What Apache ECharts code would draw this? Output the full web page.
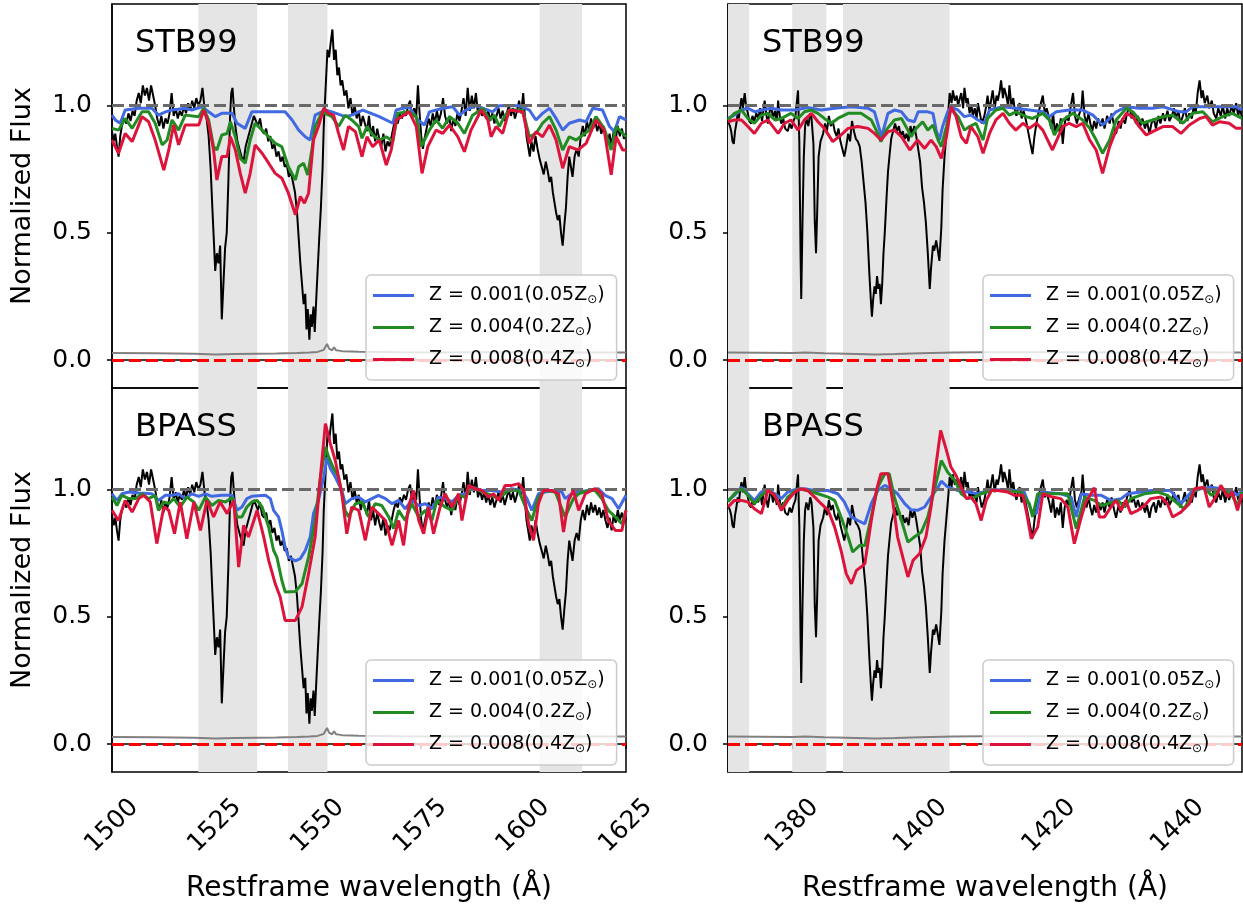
<!DOCTYPE html>
<html>
<head>
<meta charset="utf-8">
<script src="https://cdn.jsdelivr.net/npm/echarts@6/dist/echarts.min.js"></script>
<style>html,body{margin:0;padding:0;background:#fff}#chart{width:1243px;height:907px}</style>
</head>
<body>
<div id="chart"></div>
<script>
// tick values and shaded windows
var xTicksLeft = [1500, 1525, 1550, 1575, 1600, 1625];
var xTicksRight = [1380, 1400, 1420, 1440];
var yTicks = [0, 0.5, 1.0];
var spansLeft = [[1521, 1535.3], [1542.8, 1552.4], [1604, 1614.3]];
var spansRight = [[1370, 1373.3], [1380, 1385.3], [1387.9, 1404.5]];
var metal = ["0.001", "0.004", "0.008"];
var solar = ["0.05", "0.2", "0.4"];

// observed spectrum, 1500-1625
var obsLeft = [[1500.0,0.90],[1500.4,0.86],[1500.8,0.89],[1501.2,0.84],[1501.6,0.80],[1502.0,0.88],[1502.4,0.92],[1503.0,0.95],[1503.5,0.93],[1504.0,0.97],[1504.5,0.94],[1505.0,0.98],[1505.5,0.96],[1506.0,1.02],[1506.5,1.05],[1507.0,1.01],[1507.5,1.08],[1508.0,1.04],[1508.5,1.07],[1509.0,1.02],[1509.5,1.08],[1510.0,1.04],[1510.5,1.00],[1511.0,0.95],[1511.5,0.92],[1512.0,0.96],[1512.5,0.91],[1513.0,0.95],[1513.5,0.93],[1514.0,0.97],[1514.5,1.05],[1515.0,0.96],[1515.5,0.99],[1516.0,0.95],[1516.5,0.98],[1517.0,0.96],[1517.5,1.00],[1518.0,0.97],[1518.5,1.01],[1519.0,0.98],[1519.5,1.02],[1520.0,0.99],[1520.5,1.03],[1521.0,1.00],[1521.5,1.02],[1522.0,1.07],[1522.5,0.99],[1523.0,0.95],[1523.5,0.88],[1524.0,0.75],[1524.4,0.60],[1524.8,0.46],[1525.1,0.35],[1525.5,0.42],[1525.9,0.38],[1526.3,0.45],[1526.7,0.16],[1527.1,0.30],[1527.5,0.44],[1527.9,0.50],[1528.3,0.70],[1528.7,0.95],[1529.0,1.05],[1529.3,1.07],[1529.7,0.98],[1530.0,0.92],[1530.5,0.86],[1531.0,0.83],[1531.5,0.80],[1532.0,0.78],[1532.5,0.84],[1533.0,0.87],[1533.5,0.90],[1534.0,0.93],[1534.5,0.96],[1535.0,0.94],[1535.5,0.92],[1536.0,0.95],[1536.5,0.90],[1537.0,0.89],[1537.5,0.91],[1538.0,0.86],[1538.5,0.88],[1539.0,0.83],[1539.5,0.85],[1540.0,0.80],[1540.5,0.82],[1541.0,0.78],[1541.5,0.80],[1542.0,0.76],[1542.5,0.77],[1543.0,0.72],[1543.5,0.74],[1544.0,0.70],[1544.5,0.66],[1545.0,0.58],[1545.4,0.48],[1545.8,0.38],[1546.2,0.30],[1546.6,0.22],[1547.0,0.26],[1547.3,0.12],[1547.6,0.20],[1548.0,0.08],[1548.3,0.18],[1548.6,0.13],[1549.0,0.21],[1549.3,0.11],[1549.7,0.25],[1550.0,0.35],[1550.4,0.48],[1550.8,0.60],[1551.2,0.75],[1551.5,0.92],[1551.8,1.02],[1552.1,1.12],[1552.4,1.22],[1552.8,1.19],[1553.2,1.25],[1553.6,1.30],[1554.0,1.18],[1554.4,1.22],[1554.8,1.12],[1555.2,1.15],[1555.6,1.08],[1556.0,1.10],[1556.5,1.04],[1557.0,1.06],[1557.5,0.99],[1558.0,1.03],[1558.5,0.96],[1559.0,1.00],[1559.5,0.95],[1560.0,0.98],[1560.5,0.92],[1561.0,0.96],[1561.5,0.93],[1562.0,0.90],[1562.5,0.96],[1563.0,0.88],[1563.5,0.92],[1564.0,0.86],[1564.5,0.91],[1565.0,0.87],[1565.5,0.84],[1566.0,0.89],[1566.5,0.82],[1567.0,0.86],[1567.5,0.84],[1568.0,0.88],[1568.5,0.92],[1569.0,0.95],[1569.5,0.93],[1570.0,0.97],[1570.5,0.95],[1571.0,0.98],[1571.5,0.96],[1572.0,1.00],[1572.5,1.02],[1573.0,0.95],[1573.5,0.99],[1574.0,0.96],[1574.4,1.08],[1574.8,0.97],[1575.2,0.88],[1575.6,0.83],[1576.0,0.87],[1576.5,0.91],[1577.0,0.95],[1577.5,0.92],[1578.0,0.97],[1578.5,0.93],[1579.0,0.98],[1579.5,0.94],[1580.0,0.97],[1580.5,1.03],[1581.0,0.96],[1581.5,0.93],[1582.0,0.96],[1582.5,0.90],[1583.0,0.95],[1583.5,0.92],[1584.0,0.97],[1584.5,0.94],[1585.0,0.98],[1585.5,1.03],[1586.0,0.96],[1586.5,1.07],[1587.0,0.98],[1587.5,1.04],[1588.0,0.99],[1588.5,1.05],[1589.0,0.97],[1589.5,1.00],[1590.0,0.96],[1590.5,0.99],[1591.0,0.95],[1591.5,0.98],[1592.0,0.94],[1592.5,0.97],[1593.0,0.93],[1593.5,0.96],[1594.0,0.99],[1594.5,0.95],[1595.0,0.98],[1595.5,0.94],[1596.0,0.97],[1596.5,1.00],[1597.0,0.96],[1597.5,0.99],[1598.0,0.95],[1598.5,0.98],[1599.0,1.02],[1599.5,0.97],[1600.0,1.05],[1600.4,0.96],[1600.8,0.88],[1601.2,0.84],[1601.6,0.80],[1602.0,0.86],[1602.5,0.82],[1603.0,0.88],[1603.5,0.83],[1604.0,0.79],[1604.5,0.76],[1605.0,0.73],[1605.5,0.78],[1606.0,0.74],[1606.4,0.70],[1606.8,0.72],[1607.2,0.66],[1607.6,0.62],[1608.0,0.58],[1608.4,0.55],[1608.8,0.57],[1609.2,0.50],[1609.6,0.45],[1610.0,0.53],[1610.4,0.60],[1610.8,0.72],[1611.2,0.80],[1611.6,0.76],[1612.0,0.72],[1612.5,0.80],[1613.0,0.83],[1613.5,0.80],[1614.0,0.88],[1614.5,0.92],[1615.0,0.88],[1615.5,0.94],[1616.0,0.90],[1616.5,0.95],[1617.0,0.91],[1617.5,0.94],[1618.0,0.90],[1618.5,0.93],[1619.0,0.89],[1619.5,0.92],[1620.0,0.88],[1620.5,0.85],[1621.0,0.89],[1621.5,0.84],[1622.0,0.90],[1622.5,0.87],[1623.0,0.92],[1623.5,0.88],[1624.0,0.91],[1624.5,0.87],[1625.0,0.89]];

var errLeft = [[1500,0.028],[1510,0.027],[1520,0.025],[1525,0.022],[1530,0.024],[1535,0.025],[1540,0.026],[1545,0.028],[1548,0.030],[1550,0.032],[1551.5,0.040],[1552.3,0.063],[1552.8,0.045],[1553.5,0.038],[1554,0.050],[1554.5,0.038],[1556,0.035],[1560,0.033],[1570,0.031],[1580,0.030],[1590,0.031],[1600,0.031],[1610,0.030],[1625,0.030]];

// observed spectrum, 1370-1450
var obsRight = [[1370.0,0.94],[1370.3,0.92],[1370.5,0.90],[1370.7,0.86],[1370.9,0.85],[1371.1,0.90],[1371.3,0.93],[1371.5,0.97],[1371.7,0.95],[1371.9,1.00],[1372.1,1.03],[1372.3,0.99],[1372.6,1.05],[1372.8,1.00],[1373.1,0.97],[1373.3,0.94],[1373.6,0.93],[1373.8,0.96],[1374.1,0.94],[1374.4,0.97],[1374.7,0.95],[1375.0,0.99],[1375.3,0.94],[1375.7,1.02],[1376.0,0.96],[1376.2,0.93],[1376.5,0.98],[1376.7,1.00],[1377.0,0.95],[1377.3,0.98],[1377.6,0.94],[1377.8,1.02],[1378.1,0.95],[1378.3,0.93],[1378.6,0.95],[1378.9,0.91],[1379.3,0.90],[1379.6,0.93],[1379.9,0.91],[1380.2,0.94],[1380.5,0.96],[1380.9,1.06],[1381.1,0.86],[1381.3,0.40],[1381.4,0.24],[1381.6,0.55],[1381.8,0.80],[1382.0,0.92],[1382.2,0.95],[1382.5,0.92],[1382.8,0.97],[1383.0,0.95],[1383.3,0.85],[1383.5,0.55],[1383.7,0.42],[1383.9,0.60],[1384.1,0.80],[1384.4,0.86],[1384.8,0.89],[1385.1,0.93],[1385.4,0.90],[1385.7,0.96],[1386.0,0.92],[1386.3,0.94],[1386.6,0.90],[1386.9,0.88],[1387.2,0.91],[1387.5,0.86],[1387.8,0.83],[1388.1,0.80],[1388.4,0.84],[1388.7,0.89],[1389.0,0.86],[1389.3,0.94],[1389.6,0.90],[1389.9,0.87],[1390.2,0.86],[1390.5,0.84],[1390.8,0.78],[1391.1,0.70],[1391.4,0.62],[1391.7,0.50],[1392.0,0.34],[1392.2,0.25],[1392.4,0.17],[1392.6,0.24],[1392.8,0.29],[1393.0,0.26],[1393.2,0.33],[1393.4,0.28],[1393.6,0.30],[1393.8,0.22],[1394.0,0.30],[1394.2,0.42],[1394.4,0.50],[1394.7,0.65],[1394.9,0.74],[1395.2,0.82],[1395.4,0.87],[1395.7,0.90],[1396.0,0.93],[1396.3,0.90],[1396.6,0.92],[1396.9,0.88],[1397.2,0.90],[1397.5,0.87],[1397.8,0.89],[1398.1,0.86],[1398.4,0.92],[1398.7,0.89],[1399.0,0.92],[1399.3,0.88],[1399.6,0.83],[1399.9,0.78],[1400.2,0.68],[1400.5,0.62],[1400.8,0.54],[1401.1,0.42],[1401.4,0.28],[1401.6,0.36],[1401.9,0.45],[1402.1,0.43],[1402.4,0.47],[1402.6,0.44],[1402.9,0.39],[1403.2,0.52],[1403.4,0.67],[1403.7,0.80],[1404.0,0.89],[1404.3,0.98],[1404.5,1.05],[1404.8,1.01],[1405.0,1.06],[1405.3,1.02],[1405.6,1.04],[1405.8,1.00],[1406.1,1.03],[1406.3,1.05],[1406.6,0.99],[1406.8,1.07],[1407.1,1.01],[1407.3,1.03],[1407.6,0.97],[1407.9,1.00],[1408.1,0.96],[1408.4,0.99],[1408.7,0.95],[1408.9,1.01],[1409.2,0.97],[1409.5,0.93],[1409.9,0.96],[1410.2,1.00],[1410.4,1.04],[1410.7,0.98],[1411.0,1.03],[1411.2,1.06],[1411.5,0.99],[1411.8,1.04],[1412.0,1.02],[1412.3,1.06],[1412.5,1.10],[1412.8,1.03],[1413.0,1.07],[1413.3,1.04],[1413.6,1.00],[1413.8,1.08],[1414.1,1.00],[1414.4,1.03],[1414.6,0.99],[1414.9,0.96],[1415.2,1.00],[1415.4,1.01],[1415.7,0.95],[1416.0,0.98],[1416.4,0.94],[1416.7,0.90],[1417.0,0.86],[1417.4,0.81],[1417.7,0.88],[1418.0,0.93],[1418.3,0.97],[1418.6,1.00],[1419.0,1.04],[1419.3,0.97],[1419.6,0.99],[1420.0,0.95],[1420.3,0.91],[1420.6,0.97],[1420.9,0.89],[1421.2,0.93],[1421.5,0.90],[1421.8,0.95],[1422.1,0.85],[1422.4,0.93],[1422.7,0.96],[1423.0,0.94],[1423.3,0.99],[1423.7,1.05],[1424.0,0.96],[1424.3,0.93],[1424.7,0.97],[1425.0,0.99],[1425.2,1.06],[1425.5,0.96],[1425.8,0.93],[1426.1,0.97],[1426.4,0.93],[1426.7,0.90],[1427.0,0.94],[1427.3,0.91],[1427.6,0.95],[1428.0,0.92],[1428.3,0.95],[1428.6,0.91],[1429.0,0.96],[1429.4,0.93],[1429.7,0.97],[1430.1,0.92],[1430.4,0.89],[1430.8,0.94],[1431.1,0.91],[1431.4,0.95],[1431.8,0.93],[1432.1,0.97],[1432.5,1.00],[1432.8,0.95],[1433.1,0.97],[1433.5,0.93],[1433.8,0.96],[1434.2,0.92],[1434.5,0.95],[1434.9,0.91],[1435.2,0.94],[1435.6,0.89],[1435.9,0.93],[1436.3,0.95],[1436.6,0.91],[1437.0,0.96],[1437.3,0.93],[1437.7,0.97],[1438.0,0.94],[1438.4,0.98],[1438.7,0.94],[1439.1,0.96],[1439.4,0.99],[1439.7,0.95],[1440.1,0.98],[1440.4,0.93],[1440.8,0.96],[1441.1,0.99],[1441.5,0.94],[1441.8,0.97],[1442.2,0.95],[1442.5,1.00],[1442.8,0.97],[1443.1,1.05],[1443.4,1.10],[1443.7,1.03],[1443.9,1.06],[1444.2,1.01],[1444.6,1.04],[1444.9,0.99],[1445.3,1.02],[1445.6,0.97],[1446.0,0.95],[1446.3,0.99],[1446.7,0.96],[1447.0,1.00],[1447.4,0.95],[1447.7,0.99],[1448.0,0.96],[1448.4,1.00],[1448.7,0.97],[1449.1,1.01],[1449.4,0.96],[1449.7,0.99],[1450.0,0.95]];

var errRight = [[1370,0.030],[1375,0.029],[1380,0.028],[1382,0.030],[1385,0.027],[1390,0.024],[1393,0.022],[1396,0.024],[1400,0.027],[1405,0.030],[1410,0.031],[1420,0.031],[1430,0.030],[1440,0.031],[1450,0.030]];

// STB99 models, left window
var stbBlueL = [[1500.0,0.963],[1500.8,0.944],[1502.0,0.931],[1503.2,0.983],[1506.5,0.990],[1509.7,0.990],[1511.3,0.963],[1513.0,0.976],[1514.6,0.983],[1517.8,0.990],[1519.4,0.983],[1521.9,0.996],[1523.5,0.976],[1525.1,0.957],[1526.7,0.970],[1529.2,0.970],[1530.4,0.931],[1532.4,0.911],[1534.0,0.976],[1542.1,0.976],[1543.8,0.944],[1545.4,0.904],[1547.0,0.878],[1548.2,0.865],[1549.0,0.931],[1549.4,0.963],[1551.9,0.983],[1553.5,0.976],[1556.7,0.957],[1558.3,0.963],[1561.0,0.983],[1565.0,0.957],[1568.3,0.931],[1569.1,0.983],[1572.3,0.996],[1574.4,0.944],[1576.0,0.924],[1577.2,0.976],[1580.4,0.990],[1582.9,0.996],[1584.5,0.963],[1586.1,0.983],[1588.5,1.0],[1592.6,0.976],[1594.2,1.0],[1599.1,1.0],[1601.5,0.983],[1603.1,0.944],[1604.7,0.970],[1606.4,0.990],[1608.0,0.950],[1609.6,0.904],[1611.2,0.931],[1613.7,0.944],[1615.3,0.937],[1616.9,0.990],[1619.3,0.983],[1621.0,0.918],[1622.2,0.898],[1623.4,0.957],[1625.0,0.944]];
var stbGreenL = [[1500.0,0.911],[1501.6,0.904],[1503.2,0.950],[1504.9,0.911],[1507.3,0.976],[1508.9,0.976],[1510.5,0.931],[1512.2,0.846],[1513.4,0.865],[1514.6,0.944],[1516.2,0.904],[1517.8,0.963],[1521.1,0.957],[1522.3,0.990],[1523.5,0.944],[1524.7,0.839],[1525.5,0.826],[1526.7,0.885],[1528.0,0.891],[1528.8,0.937],[1530.0,0.878],[1531.2,0.793],[1532.4,0.774],[1533.6,0.865],[1534.8,0.931],[1536.5,0.904],[1538.1,0.878],[1539.7,0.852],[1541.3,0.839],[1542.9,0.760],[1544.6,0.708],[1545.4,0.760],[1546.6,0.774],[1547.6,0.728],[1548.6,0.826],[1549.4,0.918],[1551.1,0.976],[1553.5,0.957],[1555.1,0.918],[1556.7,0.963],[1558.3,0.944],[1560.0,0.918],[1560.8,0.872],[1562.0,0.918],[1563.4,0.885],[1565.0,0.865],[1566.7,0.878],[1568.3,0.859],[1569.5,0.970],[1572.3,0.976],[1574.0,0.957],[1575.2,0.839],[1577.2,0.904],[1578.8,0.944],[1580.4,0.911],[1582.1,0.957],[1584.1,0.931],[1585.7,0.891],[1587.7,0.963],[1590.2,0.990],[1591.8,0.944],[1593.0,0.963],[1594.2,0.918],[1595.4,0.957],[1596.6,0.983],[1599.9,0.983],[1601.5,0.878],[1603.1,0.891],[1604.7,0.931],[1606.4,0.957],[1608.0,0.904],[1609.6,0.826],[1611.2,0.878],[1612.9,0.865],[1614.5,0.885],[1616.1,0.904],[1617.7,0.957],[1619.7,0.911],[1621.4,0.826],[1622.6,0.918],[1625.0,0.878]];
var stbRedL = [[1500.0,0.865],[1501.6,0.813],[1503.2,0.891],[1504.9,0.859],[1507.3,0.957],[1508.9,0.937],[1510.5,0.865],[1512.6,0.747],[1513.8,0.826],[1515.0,0.924],[1516.2,0.846],[1517.8,0.924],[1521.1,0.924],[1522.3,0.983],[1523.5,0.931],[1524.7,0.826],[1525.5,0.708],[1526.7,0.800],[1528.0,0.800],[1528.8,0.878],[1530.0,0.826],[1531.2,0.734],[1532.4,0.656],[1533.6,0.734],[1534.8,0.846],[1536.5,0.813],[1538.1,0.774],[1539.7,0.734],[1541.3,0.715],[1542.9,0.656],[1544.6,0.571],[1545.8,0.643],[1546.8,0.617],[1547.8,0.656],[1549.0,0.865],[1550.2,0.918],[1551.5,0.990],[1552.7,0.970],[1553.9,0.963],[1555.1,0.891],[1556.3,0.826],[1557.5,0.918],[1559.2,0.898],[1560.8,0.800],[1562.0,0.878],[1563.4,0.839],[1565.0,0.865],[1566.7,0.767],[1567.9,0.826],[1569.1,0.944],[1572.3,0.976],[1574.0,0.918],[1575.4,0.734],[1576.8,0.839],[1578.8,0.904],[1580.4,0.891],[1582.1,0.924],[1584.1,0.878],[1585.7,0.819],[1587.3,0.904],[1589.8,0.983],[1591.4,0.944],[1592.2,0.878],[1593.4,0.918],[1595.0,0.891],[1596.6,0.983],[1599.9,0.976],[1601.5,0.852],[1603.1,0.898],[1604.7,0.878],[1606.4,0.924],[1608.0,0.865],[1609.6,0.754],[1611.2,0.839],[1613.3,0.826],[1615.3,0.852],[1617.7,0.944],[1619.7,0.904],[1621.4,0.728],[1622.6,0.878],[1624.2,0.826],[1625.0,0.826]];

// BPASS models, left window
var bpBlueL = [[1500.0,0.984],[1501.2,0.958],[1502.4,0.984],[1504.1,0.991],[1506.5,0.987],[1509.7,0.984],[1511.3,0.958],[1513.0,0.978],[1514.6,0.978],[1516.2,0.984],[1517.8,0.965],[1519.4,0.984],[1521.1,0.974],[1522.7,0.984],[1524.3,0.974],[1526.7,0.978],[1529.2,0.978],[1530.4,0.919],[1531.6,0.932],[1532.8,0.965],[1534.0,0.974],[1537.3,0.978],[1538.5,0.965],[1539.3,0.919],[1540.5,0.893],[1541.3,0.840],[1542.1,0.775],[1542.9,0.735],[1544.6,0.720],[1545.8,0.729],[1547.0,0.761],[1548.2,0.814],[1549.0,0.906],[1550.2,0.958],[1551.5,1.050],[1552.3,1.128],[1553.1,1.083],[1554.3,1.050],[1555.9,0.997],[1556.7,0.945],[1558.3,0.965],[1560.0,0.971],[1561.6,0.952],[1563.2,0.965],[1564.8,0.978],[1566.5,0.965],[1568.1,0.945],[1569.7,0.958],[1571.3,0.925],[1572.9,0.958],[1574.6,0.938],[1576.2,0.945],[1577.8,0.925],[1579.4,0.971],[1581.0,0.965],[1582.7,0.952],[1584.3,0.978],[1585.9,0.984],[1587.5,1.010],[1590.0,0.997],[1592.4,0.997],[1594.8,0.991],[1597.2,1.004],[1599.7,0.997],[1600.9,0.965],[1602.1,0.919],[1603.7,0.984],[1605.3,0.991],[1607.8,0.997],[1609.4,0.991],[1610.2,0.965],[1611.8,0.984],[1613.5,0.991],[1615.9,0.997],[1618.3,1.004],[1619.9,0.978],[1621.6,0.965],[1623.2,0.925],[1625.0,0.978]];
var bpGreenL = [[1500.0,0.971],[1501.2,0.938],[1502.4,0.978],[1504.1,0.965],[1505.7,0.965],[1507.3,0.984],[1508.9,0.965],[1510.5,0.978],[1511.3,0.919],[1512.6,0.952],[1513.8,0.945],[1515.0,0.965],[1516.6,0.932],[1518.2,0.971],[1519.9,0.952],[1521.1,0.919],[1522.7,0.971],[1524.3,0.938],[1525.9,0.958],[1527.6,0.952],[1529.2,0.969],[1530.4,0.893],[1531.6,0.893],[1532.8,0.932],[1534.0,0.952],[1535.3,0.958],[1536.5,0.932],[1538.1,0.853],[1539.3,0.761],[1540.1,0.735],[1541.3,0.644],[1542.1,0.598],[1544.6,0.600],[1546.2,0.630],[1547.8,0.735],[1549.4,0.879],[1550.6,1.037],[1551.9,1.168],[1552.7,1.128],[1553.9,1.083],[1555.1,1.050],[1556.7,0.919],[1557.5,0.893],[1559.2,0.945],[1560.8,0.952],[1562.4,0.893],[1564.0,0.945],[1565.6,0.938],[1567.3,0.893],[1568.5,0.847],[1569.7,0.919],[1571.3,0.879],[1572.9,0.945],[1574.6,0.893],[1576.2,0.919],[1577.8,0.879],[1579.0,0.958],[1581.0,0.932],[1582.7,0.919],[1584.3,0.978],[1585.9,0.971],[1587.5,1.010],[1590.0,0.991],[1592.4,0.978],[1594.0,0.965],[1596.4,0.997],[1598.9,0.997],[1600.9,0.919],[1602.1,0.879],[1603.7,0.971],[1605.3,0.997],[1607.8,0.991],[1610.2,0.893],[1612.2,0.965],[1613.5,0.984],[1615.9,0.997],[1617.5,0.997],[1619.1,0.965],[1620.7,0.919],[1622.4,0.893],[1624.0,0.866],[1625.0,0.919]];
var bpRedL = [[1500.0,0.919],[1501.6,0.879],[1503.2,0.958],[1504.9,0.912],[1506.5,0.965],[1507.7,0.978],[1509.3,0.952],[1510.9,0.788],[1512.6,0.932],[1513.8,0.919],[1515.2,0.827],[1516.6,0.952],[1518.2,0.807],[1519.9,0.952],[1521.5,0.840],[1523.1,0.958],[1524.7,0.893],[1526.3,0.952],[1528.0,0.906],[1529.6,0.958],[1530.8,0.696],[1532.0,0.860],[1533.2,0.814],[1535.3,0.919],[1536.9,0.814],[1538.1,0.722],[1539.7,0.630],[1540.9,0.578],[1542.1,0.486],[1544.6,0.486],[1546.2,0.539],[1547.8,0.670],[1549.4,0.814],[1550.6,1.037],[1551.9,1.260],[1553.1,1.181],[1554.3,1.115],[1555.9,0.984],[1557.1,0.827],[1558.3,0.932],[1560.0,0.919],[1561.6,0.801],[1563.2,0.932],[1564.8,0.906],[1566.5,0.879],[1568.1,0.781],[1569.7,0.879],[1570.9,0.781],[1572.1,0.932],[1573.3,0.997],[1574.6,0.879],[1575.8,0.827],[1577.0,0.932],[1578.2,0.827],[1579.8,0.932],[1581.0,0.984],[1582.7,0.932],[1584.3,0.984],[1585.1,0.879],[1586.7,1.017],[1588.3,1.004],[1590.0,0.997],[1591.6,0.971],[1592.8,0.984],[1594.0,0.958],[1595.6,1.017],[1597.2,1.017],[1598.9,1.024],[1600.1,0.997],[1601.3,0.866],[1602.5,0.801],[1603.7,0.945],[1604.9,0.997],[1607.0,0.997],[1608.6,0.984],[1609.8,0.834],[1611.0,0.958],[1612.2,0.997],[1613.5,0.919],[1615.1,0.984],[1617.5,1.004],[1619.1,0.984],[1620.7,0.879],[1622.4,0.840],[1624.0,0.840],[1625.0,0.919]];

// STB99 models, right window
var stbBlueR = [[1370.0,0.950],[1371.0,0.963],[1372.1,0.983],[1373.1,0.990],[1374.2,0.976],[1375.2,0.983],[1376.7,0.990],[1378.3,0.983],[1380.4,0.983],[1382.4,0.993],[1384.5,0.983],[1386.6,0.990],[1389.2,0.996],[1391.8,0.990],[1392.8,0.976],[1393.3,0.931],[1393.9,0.878],[1394.9,0.970],[1395.9,0.983],[1397.0,0.976],[1398.0,0.944],[1399.0,0.937],[1399.6,0.976],[1401.1,0.976],[1401.9,0.970],[1402.4,0.904],[1402.9,0.865],[1403.4,0.918],[1404.2,0.976],[1404.7,0.996],[1405.8,0.983],[1406.8,0.957],[1407.8,0.963],[1408.9,0.944],[1409.9,0.931],[1410.7,0.983],[1412.8,0.996],[1414.8,0.990],[1416.9,0.983],[1419.0,0.976],[1420.0,0.957],[1421.1,0.976],[1423.1,0.983],[1425.2,0.983],[1426.8,0.963],[1428.3,0.924],[1429.4,0.950],[1430.4,0.976],[1432.0,0.996],[1434.0,0.990],[1436.1,0.990],[1437.7,0.996],[1440.3,0.976],[1441.3,0.976],[1442.3,0.996],[1444.9,0.996],[1447.0,0.996],[1449.1,0.996],[1450.0,0.983]];
var stbGreenR = [[1370.0,0.944],[1371.0,0.970],[1372.1,0.983],[1373.1,0.950],[1374.1,0.931],[1375.2,0.963],[1376.2,0.970],[1377.3,0.944],[1378.3,0.950],[1379.8,0.970],[1380.9,0.950],[1381.9,0.976],[1383.0,0.983],[1384.0,0.970],[1385.0,0.950],[1386.1,0.931],[1387.1,0.950],[1388.7,0.970],[1390.7,0.970],[1392.3,0.944],[1393.3,0.891],[1393.8,0.859],[1394.6,0.904],[1395.9,0.944],[1397.0,0.950],[1398.0,0.904],[1398.5,0.878],[1399.3,0.911],[1400.3,0.937],[1401.1,0.904],[1401.9,0.924],[1402.7,0.865],[1403.2,0.839],[1404.0,0.918],[1404.7,0.990],[1405.8,0.957],[1406.8,0.904],[1407.6,0.918],[1408.6,0.931],[1409.7,0.865],[1410.4,0.950],[1411.7,0.983],[1412.8,0.990],[1413.8,0.963],[1414.8,0.976],[1416.4,0.957],[1417.4,0.950],[1419.0,0.970],[1420.0,0.944],[1420.8,0.885],[1422.1,0.944],[1423.7,0.970],[1425.2,0.944],[1426.3,0.911],[1427.3,0.865],[1428.3,0.813],[1429.4,0.865],[1430.4,0.944],[1432.0,0.990],[1433.0,0.976],[1434.5,0.931],[1436.1,0.944],[1437.7,0.957],[1439.2,0.963],[1440.8,0.931],[1442.3,0.970],[1443.9,0.976],[1445.4,0.937],[1447.0,0.957],[1448.5,0.970],[1450.0,0.950]];
var stbRedR = [[1370.0,0.937],[1371.0,0.944],[1372.1,0.944],[1373.1,0.918],[1374.1,0.891],[1375.2,0.931],[1376.2,0.944],[1377.8,0.891],[1378.8,0.931],[1379.8,0.944],[1380.9,0.904],[1381.9,0.944],[1383.0,0.970],[1384.0,0.937],[1385.0,0.911],[1386.3,0.859],[1387.6,0.885],[1388.7,0.911],[1390.2,0.918],[1391.8,0.911],[1392.8,0.891],[1393.8,0.865],[1394.9,0.898],[1395.9,0.904],[1397.0,0.878],[1398.3,0.826],[1399.5,0.865],[1400.6,0.832],[1401.6,0.865],[1402.4,0.839],[1403.2,0.793],[1404.0,0.878],[1404.7,0.996],[1405.5,0.957],[1406.3,0.878],[1407.1,0.852],[1407.8,0.918],[1408.9,0.878],[1409.7,0.813],[1410.7,0.891],[1411.7,0.944],[1412.8,0.970],[1413.8,0.931],[1414.8,0.904],[1415.9,0.931],[1416.9,0.911],[1418.0,0.931],[1419.0,0.904],[1420.5,0.826],[1422.1,0.918],[1423.1,0.931],[1424.2,0.918],[1425.2,0.931],[1426.3,0.865],[1427.3,0.826],[1428.3,0.734],[1429.4,0.839],[1430.4,0.904],[1432.0,0.970],[1433.0,0.957],[1434.0,0.918],[1435.1,0.885],[1436.1,0.898],[1437.7,0.918],[1439.2,0.918],[1440.5,0.891],[1441.8,0.924],[1443.4,0.950],[1444.4,0.957],[1445.4,0.924],[1446.5,0.937],[1448.0,0.931],[1449.1,0.911],[1450.0,0.911]];

// BPASS models, right window
var bpBlueR = [[1370.0,0.958],[1371.0,0.978],[1372.1,1.010],[1373.1,0.984],[1374.1,0.958],[1375.2,0.991],[1376.2,1.0],[1377.3,0.984],[1378.3,0.965],[1379.3,0.991],[1380.4,1.0],[1381.9,1.004],[1383.5,0.997],[1385.6,0.997],[1387.1,0.984],[1388.1,0.952],[1389.2,0.893],[1390.2,0.879],[1391.3,0.866],[1392.3,0.945],[1393.3,0.997],[1394.4,1.017],[1395.4,1.004],[1396.4,0.984],[1397.5,0.945],[1398.5,0.921],[1399.5,0.919],[1400.6,0.932],[1401.6,0.971],[1402.7,1.010],[1403.2,1.034],[1404.2,1.010],[1405.8,0.997],[1407.3,0.991],[1408.9,0.984],[1410.4,0.997],[1412.0,1.0],[1414.6,0.997],[1416.1,0.991],[1417.2,0.919],[1418.0,0.906],[1418.7,0.991],[1421.8,0.984],[1423.4,0.971],[1424.2,0.893],[1425.0,0.984],[1426.5,0.978],[1428.1,0.978],[1429.6,0.958],[1431.2,0.965],[1432.2,0.984],[1434.3,0.991],[1435.8,0.997],[1437.4,0.997],[1438.9,0.997],[1440.5,0.945],[1442.1,0.991],[1443.6,1.004],[1445.2,1.010],[1446.7,1.004],[1448.3,0.997],[1449.3,0.978],[1450.0,0.997]];
var bpGreenR = [[1370.0,0.952],[1371.0,0.984],[1372.1,1.004],[1373.1,0.978],[1374.1,0.945],[1375.2,0.978],[1376.2,0.997],[1377.3,0.978],[1378.3,0.925],[1379.3,0.971],[1380.9,1.004],[1382.4,0.997],[1384.0,0.984],[1385.6,0.971],[1386.6,0.958],[1387.6,0.893],[1388.7,0.814],[1389.4,0.755],[1390.5,0.781],[1391.3,0.781],[1392.3,0.893],[1393.3,1.010],[1394.4,1.063],[1395.1,1.063],[1395.9,0.971],[1397.0,0.879],[1398.0,0.794],[1399.0,0.814],[1400.1,0.834],[1401.1,0.893],[1402.1,0.997],[1403.2,1.115],[1404.2,1.069],[1405.3,1.037],[1406.3,0.984],[1407.3,0.965],[1408.4,0.971],[1409.4,0.984],[1411.0,0.997],[1413.0,0.997],[1415.6,0.991],[1416.9,0.945],[1417.4,0.893],[1418.2,0.984],[1420.8,0.984],[1422.9,0.984],[1424.2,0.847],[1425.5,0.971],[1427.0,0.958],[1428.1,0.938],[1429.1,0.945],[1430.7,0.958],[1431.7,0.932],[1432.7,0.965],[1434.8,0.984],[1436.9,0.991],[1438.4,0.978],[1440.0,0.945],[1441.0,0.925],[1442.6,0.997],[1444.1,1.010],[1445.2,0.978],[1446.7,1.004],[1448.3,0.984],[1449.3,0.938],[1450.0,0.991]];
var bpRedR = [[1370.0,0.932],[1371.0,0.958],[1372.1,0.958],[1373.1,0.952],[1374.1,0.925],[1375.2,0.906],[1376.2,0.997],[1377.3,0.978],[1378.3,0.919],[1379.3,0.958],[1380.4,0.991],[1381.4,1.004],[1382.4,0.997],[1383.5,0.971],[1384.5,0.945],[1385.6,0.919],[1386.6,0.853],[1387.6,0.761],[1388.4,0.670],[1389.2,0.630],[1390.0,0.683],[1390.7,0.696],[1391.3,0.709],[1392.3,0.879],[1393.1,0.997],[1393.8,1.063],[1394.9,1.063],[1395.7,0.945],[1396.4,0.814],[1397.2,0.735],[1398.0,0.657],[1398.8,0.722],[1399.8,0.748],[1400.8,0.814],[1401.6,0.932],[1402.4,1.102],[1403.1,1.233],[1404.0,1.155],[1404.7,1.089],[1405.5,1.056],[1406.3,1.010],[1407.1,0.965],[1407.8,0.971],[1408.6,0.945],[1409.4,0.879],[1410.2,0.958],[1411.0,0.997],[1412.0,0.997],[1413.5,0.991],[1414.6,0.978],[1415.9,0.978],[1416.4,0.919],[1417.2,0.807],[1418.2,0.853],[1419.0,0.984],[1420.5,0.971],[1421.8,0.965],[1422.9,0.932],[1423.9,0.788],[1425.0,0.893],[1425.7,0.952],[1426.5,0.984],[1427.0,1.008],[1427.8,0.893],[1428.6,0.893],[1429.6,0.932],[1430.4,0.958],[1431.2,0.919],[1431.9,0.958],[1432.7,0.906],[1433.8,0.919],[1434.8,0.938],[1435.8,0.965],[1437.4,0.971],[1438.4,0.945],[1439.2,0.893],[1440.5,0.912],[1441.8,0.945],[1442.6,1.004],[1444.1,1.010],[1444.9,0.932],[1445.9,0.971],[1446.7,1.017],[1447.8,0.971],[1448.5,0.991],[1449.3,0.919],[1450.0,0.984]];

var FONT = "DejaVu Sans";
var colors = ["#4169e1", "#228b22", "#dc143c"];
var names = metal.map(function (z, i) { return "Z = " + z + "(" + solar[i] + "Z\u2299)"; });

var panels = [
    { left: 112, top: 4, xmin: 1500, xmax: 1625, ticks: xTicksLeft, obs: obsLeft, err: errLeft, spans: spansLeft, models: [stbBlueL, stbGreenL, stbRedL], label: "STB99", bottom: false, yname: true, lab: [135, 28], leg: [366, 275] },
    { left: 112, top: 388, xmin: 1500, xmax: 1625, ticks: xTicksLeft, obs: obsLeft, err: errLeft, spans: spansLeft, models: [bpBlueL, bpGreenL, bpRedL], label: "BPASS", bottom: true, yname: true, lab: [135, 412], leg: [366, 660] },
    { left: 728, top: 4, xmin: 1370, xmax: 1450, ticks: xTicksRight, obs: obsRight, err: errRight, spans: spansRight, models: [stbBlueR, stbGreenR, stbRedR], label: "STB99", bottom: false, yname: false, lab: [762, 28], leg: [983, 275] },
    { left: 728, top: 388, xmin: 1370, xmax: 1450, ticks: xTicksRight, obs: obsRight, err: errRight, spans: spansRight, models: [bpBlueR, bpGreenR, bpRedR], label: "BPASS", bottom: true, yname: false, lab: [762, 412], leg: [983, 660] }
];

var grid = [], xAxis = [], yAxis = [], series = [], legend = [], title = [];
var axisLineStyle = { show: true, lineStyle: { color: "#000", width: 1.5 } };

panels.forEach(function (p, i) {
    grid.push({ left: p.left, top: p.top, width: 514, height: 384, show: true, borderColor: "#000", borderWidth: 1.5, backgroundColor: "transparent" });
    xAxis.push({
        type: "value", gridIndex: i, min: p.xmin, max: p.xmax,
        axisLine: axisLineStyle, splitLine: { show: false },
        axisTick: { show: p.bottom, length: 5, lineStyle: { color: "#000", width: 1.5 }, customValues: p.ticks },
        axisLabel: { show: p.bottom, customValues: p.ticks, rotate: 45, align: "center", verticalAlign: "middle", margin: 54, fontSize: 25, fontFamily: FONT, color: "#000", formatter: function (v) { return String(v); } },
        name: p.bottom ? "Restframe wavelength (\u00c5)" : "", nameLocation: "middle", nameGap: 103,
        nameTextStyle: { fontSize: 28, fontFamily: FONT, color: "#000" }
    });
    yAxis.push({
        type: "value", gridIndex: i, min: -0.11, max: 1.4,
        axisLine: axisLineStyle, splitLine: { show: false },
        axisTick: { show: true, length: 5, lineStyle: { color: "#000", width: 1.5 }, customValues: yTicks },
        axisLabel: { customValues: yTicks, margin: 20, fontSize: 25, fontFamily: FONT, color: "#000", formatter: function (v) { return v.toFixed(1); } },
        name: p.yname ? "Normalized Flux" : "", nameLocation: "middle", nameGap: 76,
        nameTextStyle: { fontSize: 27, fontFamily: FONT, color: "#000" }
    });
    series.push({
        type: "line", name: "err" + i, xAxisIndex: i, yAxisIndex: i, data: p.err, showSymbol: false, symbol: "none",
        lineStyle: { color: "#808080", width: 2 }, z: 1, silent: true,
        markArea: { silent: true, itemStyle: { color: "#e5e5e5" }, data: p.spans.map(function (s) { return [{ xAxis: s[0] }, { xAxis: s[1] }]; }) }
    });
    series.push({
        type: "line", name: "obs" + i, xAxisIndex: i, yAxisIndex: i, data: p.obs, showSymbol: false, symbol: "none",
        lineStyle: { color: "#000", width: 2 }, z: 2, silent: true,
        markLine: {
            silent: true, symbol: ["none", "none"], label: { show: false },
            data: [
                { yAxis: 1, lineStyle: { color: "#696969", width: 3, type: [12, 5] } },
                { yAxis: 0, lineStyle: { color: "#ff0000", width: 3, type: [12, 5] } }
            ]
        }
    });
    p.models.forEach(function (m, k) {
        series.push({
            type: "line", name: names[k], xAxisIndex: i, yAxisIndex: i, data: m, showSymbol: false, symbol: "none",
            color: colors[k], lineStyle: { color: colors[k], width: 3 }, z: 3 + k, silent: true
        });
    });
    legend.push({
        data: names, orient: "vertical", left: p.leg[0], top: p.leg[1], z: 10,
        icon: "rect", itemWidth: 41, itemHeight: 3, itemGap: 11,
        padding: [10, 12, 10, 7], backgroundColor: "rgba(255,255,255,0.8)",
        borderColor: "#cccccc", borderWidth: 1.5, borderRadius: 5,
        selectedMode: false,
        formatter: function (n) { return "{a|" + n.replace("Z\u2299)", "Z") + "}{s|\u2299}{a|)}"; },
        textStyle: {
            padding: [0, 0, 0, 10],
            rich: {
                a: { fontSize: 19, lineHeight: 24, fontFamily: FONT, color: "#000" },
                s: { fontSize: 12, lineHeight: 24, fontFamily: FONT, color: "#000", padding: [9, 0, 0, 0] }
            }
        }
    });
    title.push({ text: p.label, left: p.lab[0], top: p.lab[1], padding: 0, textStyle: { fontSize: 32, fontWeight: "normal", fontFamily: FONT, color: "#000" } });
});

var chart = echarts.init(document.getElementById("chart"));
chart.setOption({
    animation: false,
    backgroundColor: "#fff",
    title: title,
    grid: grid,
    xAxis: xAxis,
    yAxis: yAxis,
    legend: legend,
    series: series
});
</script>
</body>
</html>
